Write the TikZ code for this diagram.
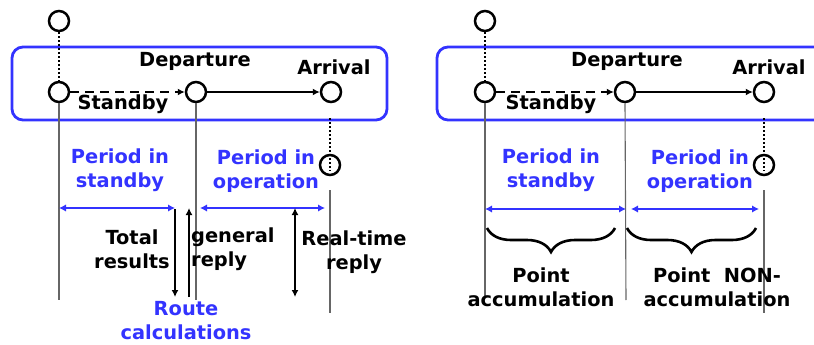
\documentclass[tikz,border=0pt]{standalone}
\usepackage{fontspec}
\setmainfont{DejaVu Sans}
\usetikzlibrary{arrows.meta,decorations.pathreplacing}
\definecolor{myblue}{RGB}{51,51,255}
\begin{document}
\begin{tikzpicture}[x=1pt,y=-1pt,
  lbl/.style={font=\bfseries\fontsize{19.4}{24}\selectfont, inner sep=0pt, align=center},
  bl/.style={lbl, text=myblue},
  stn/.style={draw, circle, line width=2.5pt, minimum size=20pt, inner sep=0pt, fill=white},
  stnopen/.style={draw, circle, line width=2.5pt, minimum size=20pt, inner sep=0pt},
  frame/.style={draw=myblue, line width=2.8pt, rounded corners=11pt},
  dotline/.style={line width=2.2pt, dash pattern=on 2pt off 2pt},
  dashline/.style={line width=2pt, dash pattern=on 9pt off 6pt, -{Latex[length=7pt,width=7pt]}},
  solidarr/.style={line width=2pt, -{Latex[length=7pt,width=7pt]}},
  vline/.style={draw=black!60, line width=1.1pt},
  barr/.style={draw=myblue, line width=2.4pt, {Latex[length=7pt,width=7.5pt]}-{Latex[length=7pt,width=7.5pt]}},
  karr/.style={line width=2.2pt, -{Latex[length=7pt,width=7pt]}},
  karr2/.style={line width=2.2pt, {Latex[length=7pt,width=7pt]}-{Latex[length=7pt,width=7pt]}},
  brc/.style={decorate, decoration={brace, mirror, amplitude=24pt}, line width=2.6pt}
]
\useasboundingbox (0,0) rectangle (814,345);

% ---------- left panel ----------
\draw[frame] (12,47) rectangle (387,120);
\node[stn] (t1) at (59,21) {};
\node[stn] (s1) at (59,92) {};
\node[stn] (d1) at (196,92) {};
\node[stn] (a1) at (331,92) {};
\node[stnopen] (e1) at (330,165) {};
\coordinate (e1top) at (330,118);
\coordinate (e1end) at (330,171);
\draw[dotline] (t1.south) -- (s1.north);
\draw[dashline] (s1.east) -- (d1.west);
\draw[solidarr] (d1.east) -- (a1.west);
\draw[dotline] (e1top) -- (e1end);

\coordinate (s1b) at (59,300);
\coordinate (d1b) at (196,300);
\coordinate (e1v1) at (330,190);
\coordinate (e1v2) at (330,313);
\draw[vline] (s1.south) -- (s1b);
\draw[vline] (d1.south) -- (d1b);
\draw[vline] (e1v1) -- (e1v2);

\node[lbl] (dep1) at (195,61) {Departure};
\node[lbl] (arr1) at (334,67) {Arrival};
\node[lbl] (stb1) at (123,104) {Standby};
\node[bl] (pis1) at (120,170) {Period in\\standby};
\node[bl] (pio1) at (266,171) {Period in\\operation};

\coordinate (b1a) at (59,208);
\coordinate (b1b) at (175,208);
\coordinate (b2a) at (200,208);
\coordinate (b2b) at (325,208);
\draw[barr] (b1a) -- (b1b);
\draw[barr] (b2a) -- (b2b);

\coordinate (k1a) at (175,209);
\coordinate (k1b) at (175,297);
\coordinate (k2a) at (189,297);
\coordinate (k2b) at (189,208);
\coordinate (k3a) at (295,208);
\coordinate (k3b) at (295,297);
\draw[karr] (k1a) -- (k1b);
\draw[karr] (k2a) -- (k2b);
\draw[karr2] (k3a) -- (k3b);

\node[lbl] (tot) at (132,249) {Total\\results};
\node[lbl, align=left, anchor=west] (gen) at (191,249) {general\\reply};
\node[lbl] (rt) at (354,252) {Real-time\\reply};
\node[bl] (route) at (186,321) {Route\\calculations};

% ---------- right panel ----------
\draw[frame] (437,47) rectangle (840,120);
\node[stn] (t2) at (485,21) {};
\node[stn] (s2) at (485,92) {};
\node[stn] (d2) at (625,92) {};
\node[stn] (a2) at (764,92) {};
\node[stnopen] (e2) at (764,165) {};
\coordinate (e2top) at (764,118);
\coordinate (e2end) at (764,171);
\draw[dotline] (t2.south) -- (s2.north);
\draw[dashline] (s2.east) -- (d2.west);
\draw[solidarr] (d2.east) -- (a2.west);
\draw[dotline] (e2top) -- (e2end);

\coordinate (s2b) at (485,297);
\coordinate (d2b) at (626,300);
\coordinate (e2v1) at (764,190);
\coordinate (e2v2) at (764,313);
\draw[vline] (s2.south) -- (s2b);
\draw[vline] (d2.south) -- (d2b);
\draw[vline] (e2v1) -- (e2v2);

\node[lbl] (dep2) at (627,61) {Departure};
\node[lbl] (arr2) at (769,67) {Arrival};
\node[lbl] (stb2) at (551,104) {Standby};
\node[bl] (pis2) at (551,170) {Period in\\standby};
\node[bl] (pio2) at (700,171) {Period in\\operation};

\coordinate (c1a) at (485,209);
\coordinate (c1b) at (626,209);
\coordinate (c2a) at (631,209);
\coordinate (c2b) at (759,209);
\draw[barr] (c1a) -- (c1b);
\draw[barr] (c2a) -- (c2b);

\coordinate (br1a) at (487,228);
\coordinate (br1b) at (615,228);
\coordinate (br2a) at (627,228);
\coordinate (br2b) at (756,228);
\draw[brc] (br1a) -- (br1b);
\draw[brc] (br2a) -- (br2b);

\node[lbl] (pa) at (541,287) {Point\\accumulation};
\node[lbl] (pna) at (717,287) {Point\ \ NON-\\accumulation};
\end{tikzpicture}
\end{document}
